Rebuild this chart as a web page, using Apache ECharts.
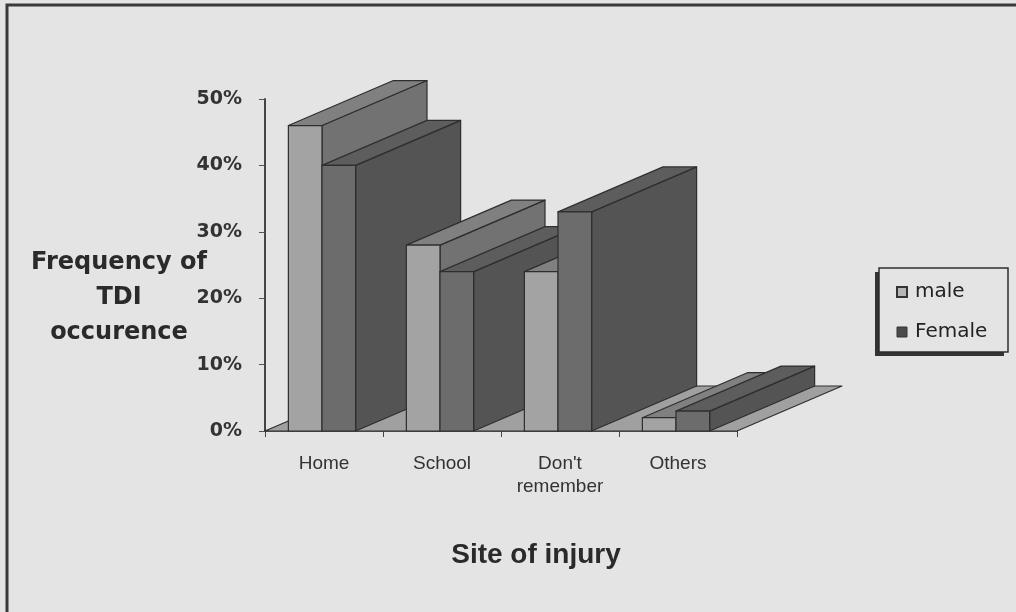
<!DOCTYPE html>
<html>
<head>
<meta charset="utf-8">
<script src="https://cdn.jsdelivr.net/npm/echarts@6/dist/echarts.min.js"></script>
<style>
  html, body { margin: 0; padding: 0; background: #e4e4e4; }
  #main { width: 1016px; height: 612px; }
</style>
</head>
<body>
<div id="main"></div>
<script>
  // data (percent)
  var categories = ['Home', 'School', "Don't\nremember", 'Others'];
  var maleValues = [46, 28, 24, 2];
  var femaleValues = [40, 24, 33, 3];
  var yTicks = [0, 10, 20, 30, 40, 50];

  // fake 3d depth of bars / floor
  var DX = 105, DY = -45;
  var EDGE = '#2e2e2e';

  var faces = {
    male: { front: '#a3a3a3', top: '#808080', side: '#727272' },
    female: { front: '#6c6c6c', top: '#5d5d5d', side: '#545454' }
  };

  function poly(points, fill, z2) {
    return {
      type: 'polygon',
      z2: z2,
      shape: { points: points },
      style: { fill: fill, stroke: EDGE, lineWidth: 1.2, lineJoin: 'round' }
    };
  }

  function barRenderer(slot, col) {
    return function (params, api) {
      var cat = api.value(0);
      var top = api.coord([cat, api.value(1)]);
      var base = api.coord([cat, 0]);
      var band = api.size([1, 0])[0];
      var w = band * 0.285;
      var x0 = base[0] - 2 + (slot === 0 ? -w : 0);
      var x1 = x0 + w;
      var y0 = top[1], y1 = base[1];
      // painter order: left categories first, male before female
      var z = cat * 10 + slot * 5;
      return {
        type: 'group',
        children: [
          poly([[x1, y0], [x1 + DX, y0 + DY], [x1 + DX, y1 + DY], [x1, y1]], col.side, z),
          poly([[x0, y0], [x0 + DX, y0 + DY], [x1 + DX, y0 + DY], [x1, y0]], col.top, z + 1),
          poly([[x0, y0], [x1, y0], [x1, y1], [x0, y1]], col.front, z + 2)
        ]
      };
    };
  }

  var chart = echarts.init(document.getElementById('main'));

  var option = {
    backgroundColor: '#e4e4e4',
    animation: false,
    grid: { left: 265, right: 279, top: 99, bottom: 181 },
    legend: {
      orient: 'vertical',
      left: 879,
      top: 268,
      padding: [13, 22, 10, 17],
      itemWidth: 10,
      itemHeight: 10,
      itemGap: 18,
      icon: 'rect',
      textStyle: { fontFamily: 'DejaVu Sans', fontSize: 20, lineHeight: 22, color: '#222', padding: [0, 0, 0, 3] },
      data: [
        { name: 'male', itemStyle: { color: '#b5b5b5', borderColor: '#333', borderWidth: 2 } },
        { name: 'Female', itemStyle: { color: '#4a4a4a', borderColor: '#333', borderWidth: 1 } }
      ]
    },
    xAxis: {
      type: 'category',
      data: categories,
      axisLine: { lineStyle: { color: '#333', width: 1.5 } },
      axisTick: { show: true, length: 6, lineStyle: { color: '#444' } },
      axisLabel: {
        interval: 0,
        margin: 21,
        fontFamily: 'Liberation Sans',
        fontSize: 19,
        lineHeight: 23,
        color: '#333'
      },
      splitLine: { show: false }
    },
    yAxis: {
      type: 'value',
      min: yTicks[0],
      max: yTicks[yTicks.length - 1],
      interval: 10,
      axisLine: { show: true, lineStyle: { color: '#444', width: 2 } },
      axisTick: { show: true, length: 6, lineStyle: { color: '#555' } },
      axisLabel: {
        formatter: '{value}%',
        margin: 23,
        fontFamily: 'DejaVu Sans',
        fontWeight: 'bold',
        fontSize: 19,
        color: '#333'
      },
      splitLine: { show: false }
    },
    graphic: [
      {
        type: 'rect',
        shape: { x: 7, y: 5, width: 1040, height: 640 },
        style: { fill: 'none', stroke: '#3a3a3a', lineWidth: 3 },
        silent: true
      },
      // legend frame with its drop shadow (bottom-left)
      {
        type: 'rect',
        shape: { x: 875, y: 272, width: 129, height: 84 },
        style: { fill: '#333', stroke: null },
        silent: true
      },
      {
        type: 'rect',
        shape: { x: 879, y: 268, width: 129, height: 84 },
        style: { fill: '#e4e4e4', stroke: '#2e2e2e', lineWidth: 1.5 },
        silent: true
      },
      {
        type: 'text',
        x: 119,
        y: 298,
        style: {
          text: 'Frequency of\nTDI\noccurence',
          fontFamily: 'DejaVu Sans',
          fontWeight: 'bold',
          fontSize: 24,
          lineHeight: 35,
          fill: '#2a2a2a',
          align: 'center',
          verticalAlign: 'middle'
        }
      },
      {
        type: 'text',
        x: 536,
        y: 555,
        style: {
          text: 'Site of injury',
          fontFamily: 'Liberation Sans',
          fontWeight: 'bold',
          fontSize: 28,
          fill: '#2a2a2a',
          align: 'center',
          verticalAlign: 'middle'
        }
      }
    ],
    series: [
      {
        // floor plane under the bars
        type: 'custom',
        silent: true,
        data: [[0, 0]],
        renderItem: function (params, api) {
          var cs = params.coordSys;
          var yb = cs.y + cs.height;
          return poly([[cs.x, yb], [cs.x + cs.width, yb], [cs.x + cs.width + DX, yb + DY], [cs.x + DX, yb + DY]], '#a0a0a0', -100);
        }
      },
      {
        name: 'male',
        type: 'custom',
        itemStyle: { color: faces.male.front },
        data: maleValues.map(function (v, i) { return [i, v]; }),
        renderItem: barRenderer(0, faces.male)
      },
      {
        name: 'Female',
        type: 'custom',
        itemStyle: { color: faces.female.front },
        data: femaleValues.map(function (v, i) { return [i, v]; }),
        renderItem: barRenderer(1, faces.female)
      }
    ]
  };

  chart.setOption(option);
</script>
</body>
</html>
